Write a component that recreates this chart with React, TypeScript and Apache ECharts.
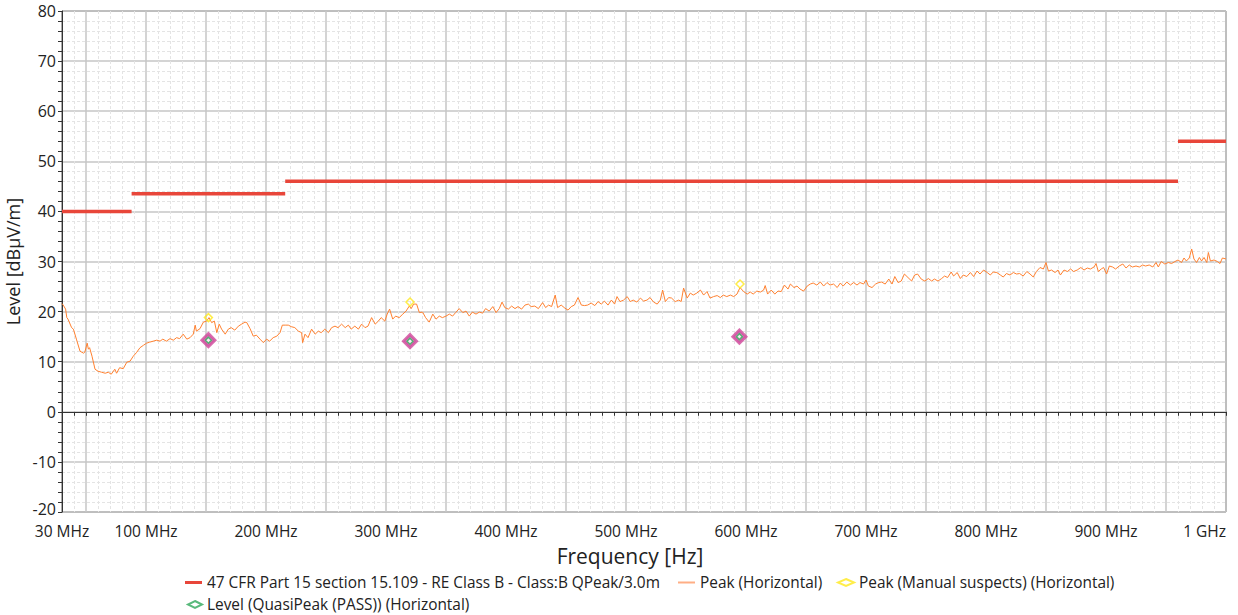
import React, { useEffect, useRef } from "react";
import * as echarts from "echarts";

// ---------- data ----------
const limitName = "47 CFR Part 15 section 15.109 - RE Class B - Class:B QPeak/3.0m";
const limitStartMHz = [30, 88, 216, 960];
const limitEndMHz = [88, 216, 960, 1000];
const limitLevel = [40, 43.5, 46, 54];

const peakName = "Peak (Horizontal)";
const peakFreqMHz = [
  30, 31, 33, 34, 35, 38, 39.5, 42, 45, 48, 49, 51, 52, 53, 55, 57.5, 60, 63, 66, 68.6, 71, 74, 75.5, 78, 81, 84,
  86.7, 89.4, 92, 95, 98, 100.5, 103, 106, 109, 111.7, 114, 117, 120, 122.8, 125.5, 128, 131, 134, 136.7, 139.4,
  141, 142, 145, 147.8, 150.5, 152.5, 154.7, 157, 159, 161, 163, 166, 168.6, 171, 174, 177, 179.7, 182.5, 184,
  186.7, 189.4, 192, 195, 197.8, 200.5, 203, 206, 209, 211.7, 213.6, 216, 218.6, 221, 224, 227, 229.7,
  230.5, 232.5, 235, 238, 241, 243.6, 246, 249, 252, 254.7, 257.5, 260, 263, 266, 268.6, 271, 274, 277, 279.7,
  282.5, 285, 288, 291, 293.6, 296, 299, 301, 303, 305.6, 308, 311, 314, 316.7, 319.4, 321, 323, 325.5, 327.8,
  330.5, 333, 336, 339, 341.7, 344.4, 347, 350, 352.8, 355.5, 358, 361, 364, 366.7, 369.4, 372, 375, 377.8,
  380.5, 383, 386, 389, 391.7, 394.4, 396.7, 399, 402, 404.7, 407.5, 410, 413, 415.8, 418.6, 421, 424, 427, 430.5,
  433, 435.5, 438, 441, 443, 446, 449, 451.7, 454.4, 457, 460, 462.8, 465.5, 468, 471, 474, 476.7, 479.4, 482,
  485, 487.8, 490.5, 492.5, 495, 498, 501, 503.6, 506, 509, 512, 514.7, 517.5, 520, 523, 526, 528.6, 530.5,
  532.8, 535.5, 538, 541, 544, 546, 548, 551, 553.6, 556, 559, 562, 564.7, 567.5, 570, 573, 576, 578.6, 581,
  584, 587, 589.7, 592.5, 595, 598, 601, 603.6, 606, 609, 612, 614.7, 616, 618, 621, 624, 626.7, 629.4, 632,
  635, 637, 640, 642.5, 645, 648, 651, 653.6, 656, 659, 662, 664.7, 667.5, 670, 673, 676, 678.6, 681, 684, 687,
  689.7, 692.5, 695, 698, 700, 702, 705, 708, 710.5, 713, 716, 719, 721.7, 724, 726.7, 729.4, 732, 735, 738,
  740.5, 743, 746, 749, 752, 754.7, 757, 760, 763, 765.5, 768, 771, 773, 776, 778.6, 781, 784, 787, 789.7,
  792.5, 795, 798, 801, 803.6, 806, 809, 812, 814.4, 817, 820, 822.8, 825.5, 828, 831, 834, 836.7, 839.4, 842,
  845, 847.8, 850, 852, 854.7, 857.5, 860, 862, 865, 867.8, 870.5, 873, 876, 879, 881.7, 884.4, 887, 890,
  891.7, 893.6, 896, 898, 900.5, 902.8, 905.5, 908, 911, 914, 916.7, 919.4, 922, 925, 927.8, 930.5, 933, 936,
  939, 941.7, 943.6, 946, 949, 952, 954.7, 957.5, 960, 963, 965, 967, 969.4, 971.4, 973.3, 975.5, 977.8, 979.7,
  981.7, 984, 985.3, 987, 990, 992.8, 995, 997, 1000,
];
const peakLevel = [
  21.6, 21.3, 20.5, 18.8, 18.5, 16.8, 16.5, 14.5, 12.1, 11.7, 11.9, 13.7, 12.5, 12.8, 11.1, 8.5, 8.1, 7.9, 7.7, 7.9,
  7.5, 8.5, 7.7, 8.8, 8.6, 9.9, 10.1, 11.1, 11.8, 12.8, 13.3, 13.7, 13.9, 14.1, 14.3, 14.1, 14.5, 14.1, 14.6, 14.3,
  14.8, 14.6, 15.5, 14.5, 14.8, 15.5, 17.3, 16.1, 16.6, 17.9, 18.1, 18.8, 17.8, 18.1, 15.8, 17.5, 16.5, 15.5, 16.5,
  16.8, 16.3, 17.1, 17.5, 17.9, 17.8, 16.6, 15.1, 15.3, 14.5, 13.8, 14.5, 14.1, 14.8, 15.1, 15.8, 17.3, 17.3, 17.3,
  17.0, 16.8, 16.1, 15.8,
  13.8, 15.5, 14.8, 16.5, 15.5, 16.1, 15.8, 16.5, 15.8, 16.8, 17.1, 16.8, 17.5, 16.8, 17.3, 16.5, 17.1, 16.5, 17.5,
  16.8, 17.1, 18.8, 17.5, 18.1, 18.8, 18.1, 19.5, 20.5, 18.5, 19.1, 18.8, 19.5, 20.1, 21.1, 20.6, 21.5, 21.5, 19.8,
  19.9, 18.8, 17.9, 19.5, 18.5, 19.1, 18.8, 19.1, 19.5, 19.1, 19.8, 20.6, 19.8, 20.1, 19.1, 19.9, 19.5, 19.9,
  19.7, 20.6, 20.1, 21.0, 19.8, 20.6, 21.9, 20.8, 20.5, 21.1, 20.6, 21.0, 20.5, 21.3, 21.5, 21.0, 21.1, 20.6, 21.8,
  20.8, 21.3, 21.0, 23.3, 20.8, 21.3, 20.7, 20.3, 21.0, 21.3, 22.8, 21.3, 21.2, 21.3, 21.7, 21.2, 22.0, 21.5, 22.1,
  21.3, 22.3, 21.5, 23.0, 22.0, 22.3, 23.0, 22.0, 22.3, 21.9, 22.7, 22.1, 22.3, 22.8, 21.9, 21.5, 22.3, 24.3,
  22.0, 22.8, 22.7, 22.0, 22.3, 22.0, 24.7, 22.7, 23.7, 23.3, 23.7, 24.3, 23.3, 24.0, 22.7, 23.0, 23.2, 22.8, 23.3,
  23.0, 23.3, 23.0, 23.5, 24.8, 24.0, 23.5, 23.9, 23.5, 24.1, 23.9, 24.3, 25.2, 23.5, 24.3, 23.5, 24.1, 24.0, 25.3,
  24.5, 25.5, 24.8, 25.1, 24.5, 24.1, 25.1, 25.5, 25.7, 25.3, 25.9, 25.1, 25.8, 25.3, 25.5, 24.8, 25.7, 25.1, 25.9, 25.3,
  25.8, 25.3, 25.8, 25.5, 26.3, 25.1, 24.8, 25.5, 25.8, 25.9, 25.5, 26.5, 25.5, 27.0, 25.8, 26.1, 27.5, 26.8, 26.1,
  27.3, 27.5, 26.5, 26.1, 26.6, 26.1, 26.5, 26.1, 26.6, 27.1, 26.8, 27.9, 27.1, 27.8, 26.6, 27.3, 27.0, 27.8, 27.0,
  28.1, 27.5, 28.3, 27.8, 27.3, 27.9, 27.8, 27.3, 26.9, 27.6, 27.3, 27.8, 27.5, 27.6, 27.1, 28.0, 27.5, 26.9, 28.0,
  28.8, 28.5, 29.8, 28.1, 28.3, 27.8, 28.3, 27.3, 28.3, 28.0, 28.5, 28.0, 28.3, 28.8, 28.3, 28.7, 28.5, 28.9,
  29.6, 28.0, 28.5, 28.8, 27.5, 29.1, 28.9, 28.5, 29.1, 29.5, 28.7, 29.3, 28.9, 29.1, 28.9, 29.3, 29.1, 29.3,
  28.9, 29.8, 28.9, 30.0, 29.5, 29.8, 29.6, 30.0, 30.3, 29.8, 30.7, 30.1, 30.7, 32.5, 30.5, 29.8, 30.8, 30.1,
  30.8, 29.8, 31.8, 30.1, 30.3, 30.0, 29.6, 30.7, 30.5,
];

const suspectName = "Peak (Manual suspects) (Horizontal)";
const suspectFreqMHz = [152, 320, 595];
const suspectLevel = [18.8, 21.9, 25.5];

const qpName = "Level (QuasiPeak (PASS)) (Horizontal)";
const qpFreqMHz = [152, 320, 594.5];
const qpLevel = [14.3, 14.1, 15.0];

const xMin = 30;
const xMax = 1000;
const yMin = -20;
const yMax = 80;

// ---------- styles ----------
const FONT = "Open Sans";
const TEXT = "#222";
const MAJOR = "#C6C6C6";
const MINOR = "#E4E4E4";
const NONE = "rgba(0,0,0,0)";
const LIMIT_COLOR = "#E8463A";
const PEAK_COLOR = "#FF8130";

function cycle(n: number, majorAt: number, major: string, minor: string) {
  const arr: string[] = [];
  for (let i = 0; i < n; i++) arr.push(i === majorAt ? major : minor);
  return arr;
}

export default function App() {
  const ref = useRef<HTMLDivElement>(null);

  useEffect(() => {
    if (!ref.current) return;
    const chart = echarts.init(ref.current, undefined, { renderer: "svg" });

    const xLabel = (v: number) => {
      if (v === 30) return "30 MHz";
      if (v === 1000) return "1 GHz";
      if (v % 100 === 0) return v + " MHz";
      return "";
    };

    const yLabel = (v: number) => {
      if (v === yMin) return "{lo|" + v + "}";
      return v % 10 === 0 ? String(v) : "";
    };

    const baseX = {
      type: "value" as const,
      min: xMin,
      max: xMax,
      interval: 10,
      gridIndex: 0,
    };
    const baseY = {
      type: "value" as const,
      min: yMin,
      max: yMax,
      interval: 2,
      gridIndex: 0,
    };

    const limitSeries = limitLevel.map((lvl, i) => ({
      type: "line",
      name: limitName,
      data: [
        [limitStartMHz[i], lvl],
        [limitEndMHz[i], lvl],
      ],
      symbol: "none",
      color: LIMIT_COLOR,
      lineStyle: { color: LIMIT_COLOR, width: 3.5 },
      z: 4,
      silent: true,
    }));

    const legendCommon = {
      orient: "horizontal" as const,
      padding: 0,
      selectedMode: false,
      textStyle: { fontFamily: FONT, fontSize: 15.4, color: TEXT },
    };

    chart.setOption({
      animation: false,
      backgroundColor: "#fff",
      textStyle: { fontFamily: FONT },
      grid: {
        left: 62,
        right: 12,
        top: 11,
        bottom: 103,
        containLabel: false,
        outerBoundsMode: "none",
        show: true,
        borderColor: "#555",
        borderWidth: 1,
        backgroundColor: "#fff",
      },
      xAxis: [
        {
          ...baseX,
          position: "bottom",
          name: "Frequency [Hz]",
          nameLocation: "middle",
          nameGap: 33,
          nameTextStyle: { fontFamily: FONT, fontSize: 21, color: TEXT, padding: [0, 28, 0, 0] },
          axisLine: { show: true, lineStyle: { color: "#333", width: 1 } },
          axisTick: { show: true, length: 4, lineStyle: { color: "#333" } },
          axisLabel: {
            formatter: xLabel,
            fontFamily: FONT,
            fontSize: 15.5,
            lineHeight: 16,
            color: TEXT,
            margin: 11,
            showMinLabel: true,
            showMaxLabel: true,
            alignMaxLabel: "right",
          },
          splitLine: {
            show: true,
            showMinLine: true,
            showMaxLine: true,
            lineStyle: { color: cycle(5, 2, NONE, MINOR), type: [3, 2], width: 1 },
          },
        },
        {
          ...baseX,
          position: "bottom",
          axisLine: { show: false },
          axisTick: { show: false },
          axisLabel: { show: false },
          splitLine: {
            show: true,
            showMinLine: true,
            showMaxLine: true,
            lineStyle: { color: cycle(5, 2, MAJOR, NONE), type: "solid", width: 1.5 },
          },
        },
      ],
      yAxis: [
        {
          ...baseY,
          position: "left",
          name: "Level [dBµV/m]",
          nameLocation: "middle",
          nameGap: 32,
          nameTextStyle: { fontFamily: FONT, fontSize: 18, color: TEXT },
          axisLine: { show: true, lineStyle: { color: "#333", width: 1 } },
          axisTick: { show: true, length: 4, lineStyle: { color: "#333" } },
          axisLabel: {
            formatter: yLabel,
            fontFamily: FONT,
            fontSize: 16,
            lineHeight: 14,
            color: TEXT,
            margin: 6,
            showMinLabel: true,
            showMaxLabel: true,
            rich: {
              lo: {
                fontFamily: FONT,
                fontSize: 16,
                lineHeight: 14,
                color: TEXT,
                padding: [0, 0, 6, 0],
              },
            },
          },
          splitLine: {
            show: true,
            showMinLine: true,
            showMaxLine: true,
            lineStyle: { color: cycle(5, 0, NONE, MINOR), type: [3, 2], width: 1 },
          },
        },
        {
          ...baseY,
          position: "left",
          axisLine: { show: false },
          axisTick: { show: false },
          axisLabel: { show: false },
          splitLine: {
            show: true,
            showMinLine: true,
            showMaxLine: true,
            lineStyle: { color: cycle(5, 0, MAJOR, NONE), type: "solid", width: 1.5 },
          },
        },
      ],
      legend: [
        {
          ...legendCommon,
          left: 185,
          top: 575,
          itemWidth: 17,
          itemHeight: 3,
          icon: "rect",
          data: [limitName],
        },
        {
          ...legendCommon,
          left: 678,
          top: 575,
          itemWidth: 17,
          itemHeight: 2,
          icon: "rect",
          itemStyle: { color: "#FFAE85" },
          data: [peakName],
        },
        {
          ...legendCommon,
          left: 837,
          top: 575,
          itemWidth: 16,
          itemHeight: 7,
          icon: "diamond",
          data: [suspectName],
        },
        {
          ...legendCommon,
          left: 187,
          top: 597,
          itemWidth: 14,
          itemHeight: 7,
          icon: "diamond",
          data: [qpName],
        },
      ],
      series: [
        ...limitSeries,
        {
          type: "line",
          name: peakName,
          data: peakFreqMHz.map((f, i) => [f, peakLevel[i]]),
          symbol: "none",
          color: PEAK_COLOR,
          lineStyle: { color: PEAK_COLOR, width: 1 },
          z: 3,
          silent: true,
        },
        {
          type: "scatter",
          name: suspectName,
          data: suspectFreqMHz.map((f, i) => [f, suspectLevel[i]]),
          symbol: "diamond",
          symbolSize: 8,
          itemStyle: { color: NONE, borderColor: "#FFE81C", borderWidth: 1.5 },
          z: 5,
          silent: true,
        },
        {
          type: "scatter",
          name: "qp-highlight",
          data: qpFreqMHz.map((f, i) => [f, qpLevel[i]]),
          symbol: "diamond",
          symbolSize: 13,
          itemStyle: { color: "#D98CC0", borderColor: "#D0469A", borderWidth: 3 },
          z: 5,
          silent: true,
        },
        {
          type: "scatter",
          name: qpName,
          data: qpFreqMHz.map((f, i) => [f, qpLevel[i]]),
          symbol: "diamond",
          symbolSize: 6,
          itemStyle: { color: "#fff", borderColor: "#2FA85A", borderWidth: 1.5 },
          z: 6,
          silent: true,
        },
      ],
    });

    return () => chart.dispose();
  }, []);

  return (
    <div
      ref={ref}
      style={{ position: "fixed", left: 0, top: 0, width: 1238, height: 615, background: "#fff" }}
    />
  );
}
